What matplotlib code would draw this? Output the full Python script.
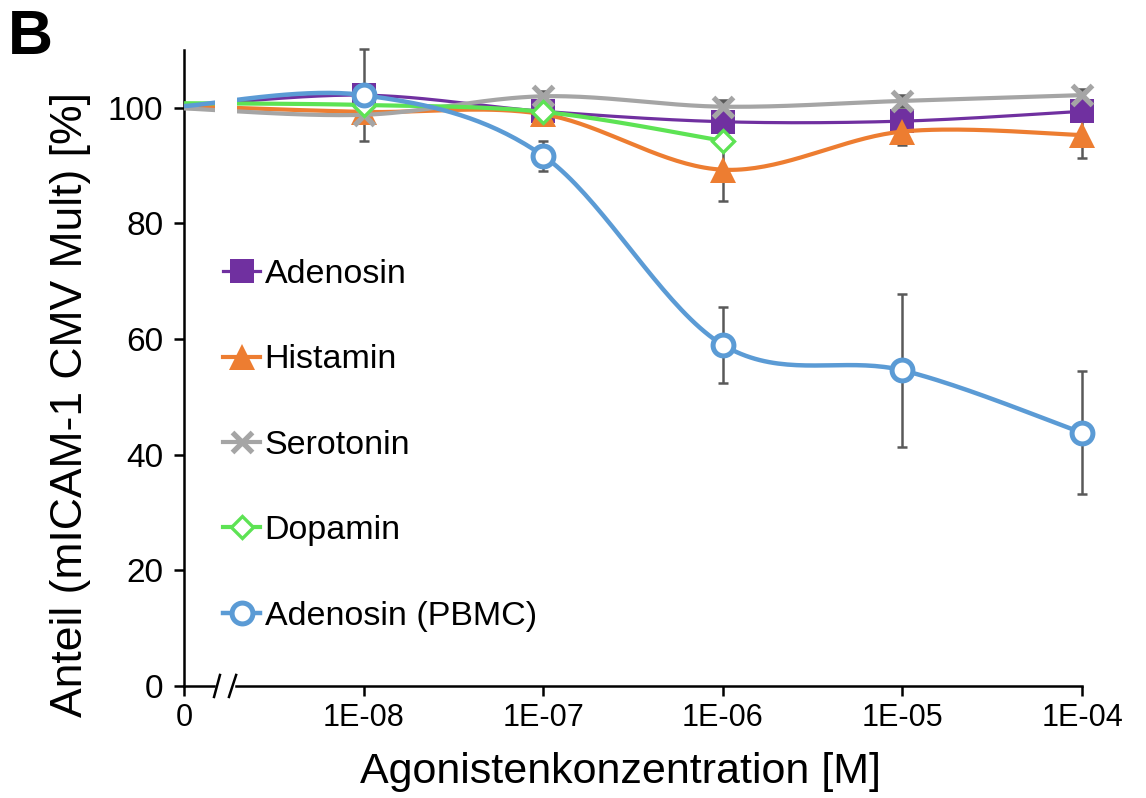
import numpy as np
import matplotlib
matplotlib.use("Agg")
import matplotlib.pyplot as plt
from matplotlib.lines import Line2D

plt.rcParams['font.family'] = ['Liberation Sans', 'DejaVu Sans']

# concentration categories (index 0 = untreated control)
conc_labels = ['0', '1E-08', '1E-07', '1E-06', '1E-05', '1E-04']

adenosin = [100.3, 102.2, 99.4, 97.6, 97.7, 99.4]
histamin = [100.3, 99.3, 98.9, 89.3, 95.9, 95.3]
serotonin = [99.9, 98.8, 102.0, 100.2, 101.2, 102.2]
dopamin = [100.8, 100.5, 99.3, 94.3]
pbmc = [100.3, 102.2, 91.7, 59.0, 54.6, 43.8]

err_adenosin = [0, 0.8, 0.8, 3.8, 1.0, 1.0]
err_histamin = [0, 1.0, 1.0, 5.4, 2.3, 4.0]
err_serotonin = [0, 1.0, 1.0, 1.0, 1.0, 1.0]
err_dopamin = [0, 1.0, 1.0, 1.0]
err_pbmc = [0, 8.0, 2.6, 6.6, 13.2, 10.6]


def smooth(x, y, n=40):
    # Excel-like smoothed line (Catmull-Rom through the points)
    pts = np.column_stack([x, y]).astype(float)
    out = []
    t = np.linspace(0, 1, n)[:, None]
    for i in range(len(pts) - 1):
        p0 = pts[i - 1] if i > 0 else pts[i]
        p1, p2 = pts[i], pts[i + 1]
        p3 = pts[i + 2] if i + 2 < len(pts) else pts[i + 1]
        c1 = p1 + (p2 - p0) / 6
        c2 = p2 - (p3 - p1) / 6
        seg = ((1 - t) ** 3) * p1 + 3 * ((1 - t) ** 2) * t * c1 + 3 * (1 - t) * t ** 2 * c2 + t ** 3 * p2
        out.append(seg if i == 0 else seg[1:])
    out = np.vstack(out)
    return out[:, 0], out[:, 1]


series = [
    ("Adenosin", adenosin, err_adenosin, '#7030A0', 's', dict(ms=17, mfc='#7030A0', mew=0), 2.3),
    ("Histamin", histamin, err_histamin, '#ED7D31', '^', dict(ms=19, mfc='#ED7D31', mew=0), 3.0),
    ("Serotonin", serotonin, err_serotonin, '#A5A5A5', 'x', dict(ms=15, mew=3.8), 3.0),
    ("Dopamin", dopamin, err_dopamin, '#5DE354', 'D', dict(ms=11, mfc='white', mew=2.4), 3.0),
    ("Adenosin (PBMC)", pbmc, err_pbmc, '#5B9BD5', 'o', dict(ms=15, mfc='white', mew=3.6), 3.2),
]

fig = plt.figure(figsize=(11.46, 7.98), dpi=100)
ax = fig.add_axes([0.1606, 0.1404, 0.7836, 0.7969])

handles = []
for k, (name, vals, errs, color, mk, mkw, lw) in enumerate(series):
    x = np.arange(len(vals))
    xs, ys = smooth(x, vals)
    z = 3 + k * 0.1
    ax.plot(xs, ys, color=color, lw=lw, zorder=z, solid_capstyle='butt')
    ax.errorbar(x[1:], vals[1:], yerr=errs[1:], fmt='none', ecolor='#595959',
                elinewidth=1.8, capsize=3.6, capthick=1.8, zorder=2, clip_on=False)
    ax.plot(x[1:], vals[1:], linestyle='none', marker=mk, color=color, mec=color,
            zorder=z + 0.05, clip_on=False, **mkw)
    handles.append(Line2D([], [], color=color, lw=lw, marker=mk, mec=color, **mkw))

# axis break
ax.axvspan(0.175, 0.295, color='white', zorder=6, lw=0)
ax.spines['bottom'].set_visible(False)
ax.plot([0, 0.165], [0, 0], color='black', lw=1.8, clip_on=False, zorder=7)
ax.plot([0.29, 5], [0, 0], color='black', lw=1.8, clip_on=False, zorder=7)
ax.plot([0.167, 0.2], [-1.9, 1.9], color='black', lw=1.8, clip_on=False, zorder=7)
ax.plot([0.25, 0.29], [-1.9, 1.9], color='black', lw=1.8, clip_on=False, zorder=7)

ax.set_xlim(0, 5)
ax.set_ylim(0, 110)
ax.set_xticks(range(len(conc_labels)))
ax.set_xticklabels(conc_labels)
ax.set_yticks([0, 20, 40, 60, 80, 100])
ax.spines['top'].set_visible(False)
ax.spines['right'].set_visible(False)
ax.spines['left'].set_linewidth(1.8)
ax.tick_params(axis='both', width=1.8, length=7, direction='out')
ax.tick_params(axis='y', pad=8, labelsize=24)
ax.tick_params(axis='x', pad=5, labelsize=22)

fig.text(621 / 1146, 1 - 772 / 798, 'Agonistenkonzentration [M]', fontsize=31,
         ha='center', va='center')
fig.text(71 / 1146, 1 - 405 / 798, 'Anteil (mICAM-1 CMV Mult) [%]', fontsize=32,
         rotation=90, ha='center', va='center')

leg = ax.legend(handles, [s[0] for s in series], loc='upper left',
                bbox_to_anchor=(223 / 1146, 1 - 259 / 798), bbox_transform=fig.transFigure,
                frameon=False, fontsize=24.5, handlelength=1.1, handletextpad=0.12,
                labelspacing=1.6, borderpad=0, borderaxespad=0)
leg.set_zorder(8)

fig.text(8 / 1146, 1 - 8 / 798, 'B', fontsize=45, fontweight='bold', va='top', ha='left')

fig.savefig('out.png', dpi=100)
